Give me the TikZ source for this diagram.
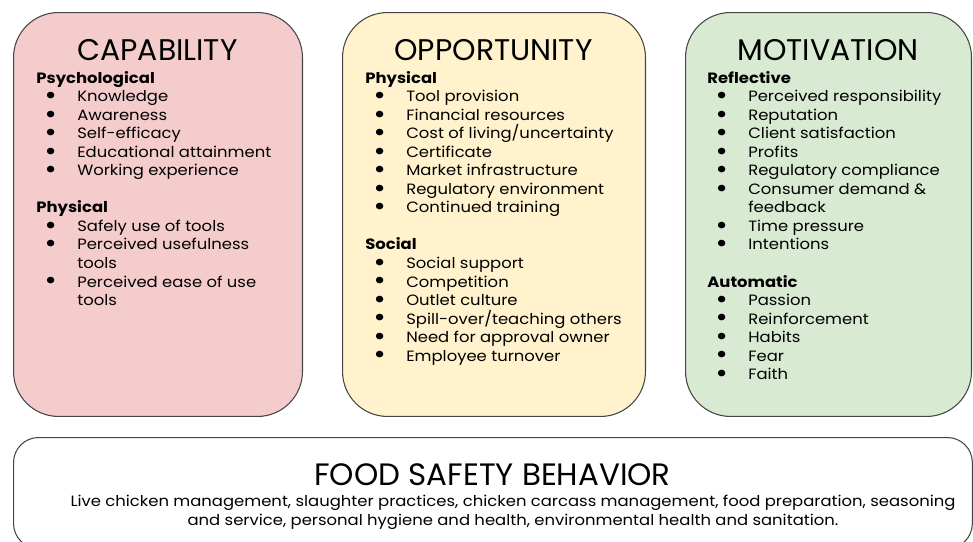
\documentclass[tikz,border=0pt]{standalone}
\usepackage{fontspec}
\setmainfont[FakeStretch=1.1]{Poppins}
\newfontfamily\titlefont{Poppins}
\usetikzlibrary{positioning}

\definecolor{capfill}{HTML}{F4CCCC}
\definecolor{oppfill}{HTML}{FFF2CC}
\definecolor{motfill}{HTML}{D9EAD3}
\definecolor{edgegray}{HTML}{454545}

% list helpers: group heading, bullet item, wrapped continuation
\newcommand{\grp}[1]{{\bfseries #1}}
\newcommand{\bigdot}{\smash{\raisebox{-0.35ex}{\scalebox{1.8}{\textbullet}}}}
\newcommand{\itm}[1]{\hspace*{4.7pt}\makebox[18.6pt][l]{\bigdot}#1}
\newcommand{\cnt}[1]{\hspace*{23.3pt}#1}

\tikzset{>=latex}

\begin{document}
\begin{tikzpicture}[x=0.02cm, y=-0.02cm, font=\fontsize{8.5}{10.54}\selectfont,
  panel/.style={draw=edgegray, line width=0.6pt, rounded corners=0.9cm, inner sep=0pt},
  title/.style={font=\titlefont\fontsize{17}{20}\selectfont, anchor=base, inner sep=0pt},
  list/.style={anchor=north west, align=left, inner sep=0pt}]
	\useasboundingbox (0,0) rectangle (973,541);

	% three COM boxes
	\node[panel, fill=capfill, anchor=north west, minimum width=5.78cm, minimum height=8.08cm] (cap) at (13,12) {};
	\node[panel, fill=oppfill, anchor=north west, minimum width=6.06cm, minimum height=8.08cm] (opp) at (342,12) {};
	\node[panel, fill=motfill, anchor=north west, minimum width=5.72cm, minimum height=8.08cm] (mot) at (685,12) {};

	\node[title] (captitle) at (157.5,60) {CAPABILITY};
	\node[title] (opptitle) at (493.5,60) {OPPORTUNITY};
	\node[title] (mottitle) at (828,60) {MOTIVATION};

	\node[list] (caplist) at (36,71) {%
		\grp{Psychological}\\
		\itm{Knowledge}\\
		\itm{Awareness}\\
		\itm{Self-efficacy}\\
		\itm{Educational attainment}\\
		\itm{Working experience}\\[10.54pt]
		\grp{Physical}\\
		\itm{Safely use of tools}\\
		\itm{Perceived usefulness}\\
		\cnt{tools}\\
		\itm{Perceived ease of use}\\
		\cnt{tools}};

	\node[list] (opplist) at (365,71) {%
		\grp{Physical}\\
		\itm{Tool provision}\\
		\itm{Financial resources}\\
		\itm{Cost of living/uncertainty}\\
		\itm{Certificate}\\
		\itm{Market infrastructure}\\
		\itm{Regulatory environment}\\
		\itm{Continued training}\\[10.54pt]
		\grp{Social}\\
		\itm{Social support}\\
		\itm{Competition}\\
		\itm{Outlet culture}\\
		\itm{Spill-over/teaching others}\\
		\itm{Need for approval owner}\\
		\itm{Employee turnover}};

	\node[list] (motlist) at (707,71) {%
		\grp{Reflective}\\
		\itm{Perceived responsibility}\\
		\itm{Reputation}\\
		\itm{Client satisfaction}\\
		\itm{Profits}\\
		\itm{Regulatory compliance}\\
		\itm{Consumer demand \&}\\
		\cnt{feedback}\\
		\itm{Time pressure}\\
		\itm{Intentions}\\[10.54pt]
		\grp{Automatic}\\
		\itm{Passion}\\
		\itm{Reinforcement}\\
		\itm{Habits}\\
		\itm{Fear}\\
		\itm{Faith}};

	% behaviour box along the bottom
	\node[panel, rounded corners=0.5cm, fill=white, anchor=north west, minimum width=19.18cm, minimum height=2.22cm] (beh) at (13,437) {};
	\node[title, font=\titlefont\fontsize{17.6}{20}\selectfont] (behtitle) at (492.5,485) {FOOD SAFETY BEHAVIOR};
	\node[anchor=north, align=center, inner sep=0pt] (behtext) at (513,495) {%
		Live chicken management, slaughter practices, chicken carcass management, food preparation, seasoning\\
		and service, personal hygiene and health, environmental health and sanitation.};
\end{tikzpicture}
\end{document}
